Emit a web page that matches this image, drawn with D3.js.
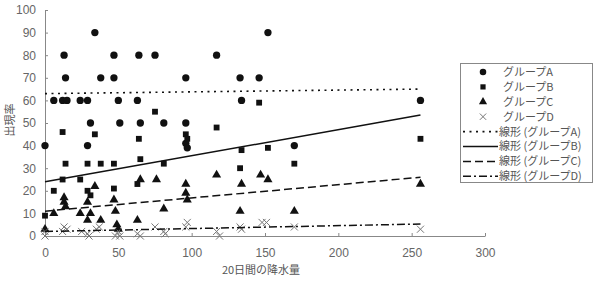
<!DOCTYPE html>
<html>
<head>
<meta charset="utf-8">
<script src="https://cdn.jsdelivr.net/npm/d3@7"></script>
<style>
  body { margin: 0; background: #fff; }
  svg text { font-family: "Liberation Sans", "Noto Sans CJK JP", sans-serif; }
</style>
</head>
<body>
<div id="chart"></div>
<script>
// points: [20日間の降水量, 出現率]
const groupA = [[0,40],[6,60],[12,60],[13,80],[14,70],[15,60],[24,60],[29,60],[29,40],[31,50],
  [34,90],[38,70],[47,80],[47,70],[50,60],[51,50],[63,60],[64,80],[65,50],[75,80],[81,50],
  [96,50],[96,70],[96,41],[97,39],[117,80],[133,70],[134,60],[146,70],[152,90],[170,40],[256,60]]
const groupB = [[0,9],[6,20],[12,25],[12,46],[14,32],[24,25],[29,32],[29,20],[31,18],[34,45],
  [38,32],[47,32],[47,21],[63,23],[64,43],[65,34],[75,55],[81,32],[96,45],[97,43],[117,48],
  [133,30],[134,38],[146,59],[152,39],[170,32],[256,43]]
const groupC = [[0,3],[6,10],[13,17],[13,15],[14,13],[24,10],[29,15],[29,7],[31,10],[34,22],
  [38,7],[47,16],[48,11],[49,5],[50,3],[63,7],[65,25],[76,25],[81,12],[96,23],[96,19],[97,16],
  [117,27],[133,11],[134,23],[147,27],[152,25],[170,11],[256,23]]
const groupD = [[0,2],[0,0],[12,2],[13,4],[15,3],[25,2],[29,1],[30,0],[35,3],[37,4],[48,0],
  [50,2],[51,0],[63,1],[65,0],[75,4],[81,2],[82,1],[96,4],[97,6],[117,2],[119,0],[133,4],
  [134,3],[148,6],[151,6],[170,4],[256,3]]

// trend line ends
const trendX = [0, 256]
const trendA = [63, 65]
const trendB = [24, 53.5]
const trendC = [11, 26]
const trendD = [2, 5.3]

const xTicks = [0, 50, 100, 150, 200, 250, 300]
const yTicks = [0, 10, 20, 30, 40, 50, 60, 70, 80, 90, 100]
const groupNames = ['グループA', 'グループB', 'グループC', 'グループD']
const trendNames = ['線形 (グループA)', '線形 (グループB)', '線形 (グループC)', '線形 (グループD)']

const width = 601
const height = 289
const margin = { top: 10, right: 116, bottom: 53, left: 45 }

const svg = d3.select('#chart').append('svg')
  .attr('width', width)
  .attr('height', height)

const x = d3.scaleLinear().domain([0, 300]).range([margin.left, width - margin.right])
const y = d3.scaleLinear().domain([0, 100]).range([height - margin.bottom, margin.top])

// X shaped marker
const symbolX = {
  draw(ctx, size) {
    const r = Math.sqrt(size) / 2
    ctx.moveTo(-r, -r); ctx.lineTo(r, r)
    ctx.moveTo(r, -r); ctx.lineTo(-r, r)
  }
}

const styles = [
  { data: groupA, type: d3.symbolCircle, size: 42, fill: '#111', stroke: 'none' },
  { data: groupB, type: d3.symbolSquare, size: 34, fill: '#111', stroke: 'none' },
  { data: groupC, type: d3.symbolTriangle, size: 36, fill: '#111', stroke: 'none' },
  { data: groupD, type: symbolX, size: 50, fill: 'none', stroke: '#777' }
]
const trends = [
  { data: trendA, dash: '2,4.5', w: 1.6 },
  { data: trendB, dash: null, w: 1.5 },
  { data: trendC, dash: '8,4', w: 1.5 },
  { data: trendD, dash: '8,3,2,3', w: 1.5 }
]

// axes
svg.append('g')
  .attr('transform', 'translate(0,' + y(0) + ')')
  .call(d3.axisBottom(x).tickValues(xTicks).tickSizeInner(-3).tickSizeOuter(0).tickPadding(12))
svg.append('g')
  .attr('transform', 'translate(' + x(0) + ',0)')
  .call(d3.axisLeft(y).tickValues(yTicks).tickSizeInner(-3).tickSizeOuter(0).tickPadding(9))

svg.selectAll('.domain').attr('stroke', '#888')
svg.selectAll('.tick line').attr('stroke', '#888')
svg.selectAll('.tick text').attr('fill', '#666').style('font-size', '12px')

// markers
styles.forEach(s => {
  svg.append('g').selectAll('path')
    .data(s.data)
    .join('path')
    .attr('transform', d => 'translate(' + x(d[0]) + ',' + y(d[1]) + ')')
    .attr('d', d3.symbol().type(s.type).size(s.size))
    .attr('fill', s.fill)
    .attr('stroke', s.stroke)
    .attr('stroke-width', 1)
})

// trend lines
const line = d3.line().x(d => x(d[0])).y(d => y(d[1]))
trends.forEach(t => {
  svg.append('path')
    .datum(trendX.map((v, i) => [v, t.data[i]]))
    .attr('d', line)
    .attr('fill', 'none')
    .attr('stroke', '#111')
    .attr('stroke-width', t.w)
    .attr('stroke-dasharray', t.dash)
})

// axis titles
svg.append('text')
  .attr('x', (x(0) + x(300)) / 2 - 4)
  .attr('y', 274)
  .attr('text-anchor', 'middle')
  .attr('fill', '#555')
  .style('font-size', '11px')
  .style('font-family', '"Noto Sans CJK JP", sans-serif')
  .text('20日間の降水量')

svg.append('text')
  .attr('transform', 'translate(14,120) rotate(-90)')
  .attr('text-anchor', 'middle')
  .attr('fill', '#555')
  .style('font-size', '11px')
  .style('font-family', '"Noto Sans CJK JP", sans-serif')
  .text('出現率')

// legend
const legend = svg.append('g')
legend.append('rect')
  .attr('x', 460.5).attr('y', 63.5)
  .attr('width', 132).attr('height', 119)
  .attr('fill', '#fff').attr('stroke', '#888')

const rowY = i => 72 + i * 14.9

styles.forEach((s, i) => {
  legend.append('path')
    .attr('transform', 'translate(483,' + rowY(i) + ')')
    .attr('d', d3.symbol().type(s.type).size(s.size * 0.8))
    .attr('fill', s.fill)
    .attr('stroke', s.stroke)
  legend.append('text')
    .attr('x', 503).attr('y', rowY(i)).attr('dy', '0.36em')
    .attr('fill', '#555')
    .style('font-size', '11px')
    .style('font-family', '"Noto Sans CJK JP", sans-serif')
    .text(groupNames[i])
})

trends.forEach((t, i) => {
  const yy = rowY(i + 4)
  legend.append('line')
    .attr('x1', 463).attr('x2', 498)
    .attr('y1', yy).attr('y2', yy)
    .attr('stroke', '#111')
    .attr('stroke-width', t.w)
    .attr('stroke-dasharray', t.dash)
  legend.append('text')
    .attr('x', 499).attr('y', yy).attr('dy', '0.36em')
    .attr('fill', '#555')
    .style('font-size', '11px')
    .style('font-family', '"Noto Sans CJK JP", sans-serif')
    .text(trendNames[i])
})
</script>
</body>
</html>
